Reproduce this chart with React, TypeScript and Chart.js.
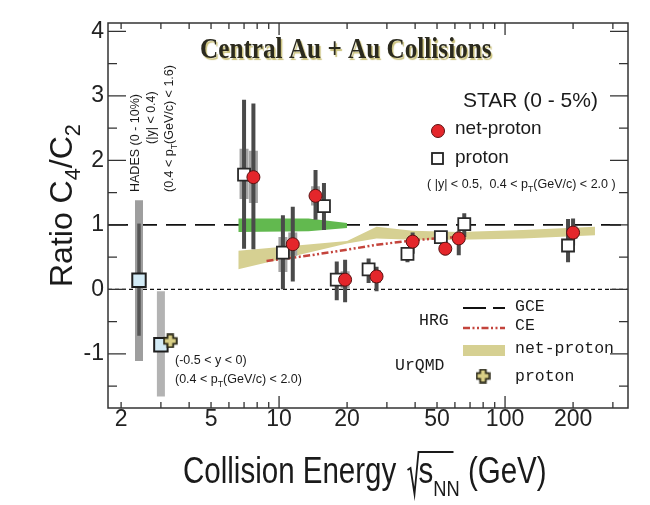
import React, { useEffect, useRef } from 'react';
import { Chart, registerables } from 'chart.js';

Chart.register(...registerables);

// ---------- axes ----------
const X_MIN = 1.75;
const X_MAX = 350;
const Y_MIN = -1.84;
const Y_MAX = 4.13;
const X_TICK_LABELS = [2, 5, 10, 20, 50, 100, 200];
const Y_TICK_LABELS = [-1, 0, 1, 2, 3, 4];
const X_MAJOR = [10, 100];
const X_MINOR = [2, 3, 4, 5, 6, 7, 8, 9, 20, 30, 40, 50, 60, 70, 80, 90, 200, 300];
const Y_MAJOR = [-1, 0, 1, 2, 3, 4];
const Y_MINOR = [-1.5, -0.5, 0.5, 1.5, 2.5, 3.5];

// ---------- STAR net-proton ----------
const NETP_E = [7.7, 11.5, 14.5, 19.6, 27, 39, 54.4, 62.4, 200];
const NETP_V = [1.74, 0.7, 1.45, 0.15, 0.2, 0.74, 0.63, 0.79, 0.88];
const NETP_STAT_LO = [0.62, 0.12, 1.08, -0.2, -0.03, 0.55, 0.53, 0.53, 0.68];
const NETP_STAT_HI = [2.88, 1.28, 1.85, 0.46, 0.35, 0.88, 0.72, 0.9, 1.1];
const NETP_SYS_LO = [1.34, 0.52, 1.3, 0.02, 0.1, 0.66, 0.56, 0.7, 0.78];
const NETP_SYS_HI = [2.15, 0.88, 1.6, 0.28, 0.3, 0.82, 0.7, 0.88, 0.98];

// ---------- STAR proton ----------
const PROT_E = [7.0, 10.4, 15.8, 18.0, 24.9, 37, 52, 66, 190];
const PROT_V = [1.78, 0.57, 1.29, 0.15, 0.31, 0.55, 0.81, 1.01, 0.68];
const PROT_STAT_LO = [0.63, 0.0, 0.92, -0.17, 0.1, 0.42, 0.72, 0.81, 0.42];
const PROT_STAT_HI = [2.94, 1.15, 1.65, 0.43, 0.48, 0.62, 0.9, 1.18, 1.09];
const PROT_SYS_LO = [1.4, 0.27, 1.2, 0.08, 0.22, 0.48, 0.74, 0.92, 0.6];
const PROT_SYS_HI = [2.18, 0.81, 1.38, 0.22, 0.38, 0.62, 0.88, 1.08, 0.76];

// ---------- HADES / low energy ----------
const HADES_E = [2.4];
const HADES_V = [0.14];
const HADES_STAT_LO = [-0.72];
const HADES_STAT_HI = [1.02];
const HADES_SYS_LO = [-1.11];
const HADES_SYS_HI = [1.38];
const FXT_E = [3.0];
const FXT_V = [-0.86];
const FXT_SYS_LO = [-1.66];
const FXT_SYS_HI = [-0.03];
const URQMD_P_E = [3.3];
const URQMD_P_V = [-0.8];

// ---------- model bands / lines ----------
const GREEN_E = [6.6, 13.5, 20.0];
const GREEN_LO = [0.89, 0.9, 0.95];
const GREEN_HI = [1.1, 1.1, 1.03];
const URQMD_NETP_E = [6.6, 20, 27, 39, 62.4, 120, 250];
const URQMD_NETP_LO = [0.31, 0.71, 0.79, 0.77, 0.77, 0.79, 0.84];
const URQMD_NETP_HI = [0.6, 0.75, 0.97, 0.91, 0.89, 0.92, 0.97];
const CE_E = [8.8, 11.5, 14.5, 19.6, 27, 39, 54.4, 62.4];
const CE_V = [0.44, 0.49, 0.54, 0.61, 0.69, 0.76, 0.8, 0.81];
const GCE_E = [X_MIN, X_MAX];
const GCE_V = [1, 1];
const ZERO_E = [X_MIN, X_MAX];
const ZERO_V = [0, 0];

const SANS = '"Liberation Sans", Arial, Helvetica, sans-serif';
const SERIF = '"Liberation Serif", "Times New Roman", serif';
const MONO = '"Liberation Mono", "Courier New", monospace';

const C_STAT = '#4a4a4a';
const C_SYS = '#a4a4a4';
const C_GREEN = '#62b94f';
const C_KHAKI = '#d6d092';
const C_CE = '#c4443c';
const C_RED = '#e4262b';

function pts(xs: number[], ys: number[]) {
  return xs.map((x, i) => ({ x, y: ys[i] }));
}
function bars(xs: number[], lo: number[], hi: number[]) {
  const d: any[] = [];
  xs.forEach((x, i) => {
    d.push({ x, y: lo[i] }, { x, y: hi[i] }, { x, y: null });
  });
  return d;
}

function makePlus(size: number) {
  const c = document.createElement('canvas');
  c.width = size;
  c.height = size;
  const g = c.getContext('2d')!;
  const a = size / 2;
  const w = size * 0.19;
  const L = size / 2 - 1.2;
  g.beginPath();
  g.moveTo(a - w, a - L);
  g.lineTo(a + w, a - L);
  g.lineTo(a + w, a - w);
  g.lineTo(a + L, a - w);
  g.lineTo(a + L, a + w);
  g.lineTo(a + w, a + w);
  g.lineTo(a + w, a + L);
  g.lineTo(a - w, a + L);
  g.lineTo(a - w, a + w);
  g.lineTo(a - L, a + w);
  g.lineTo(a - L, a - w);
  g.lineTo(a - w, a - w);
  g.closePath();
  g.fillStyle = '#d9cf86';
  g.fill();
  g.lineWidth = 1.8;
  g.strokeStyle = '#2a2816';
  g.stroke();
  return c;
}

type Part = [string, boolean];

function drawRich(ctx: CanvasRenderingContext2D, parts: Part[], x: number, y: number, size: number, family: string, sx = 1, subScale = 0.7, subDrop = 0.28) {
  let cx = x;
  for (const [t, sub] of parts) {
    const fs = sub ? size * subScale : size;
    ctx.font = `${fs}px ${family}`;
    const w = ctx.measureText(t).width * sx;
    ctx.save();
    ctx.translate(cx, y + (sub ? size * subDrop : 0));
    ctx.scale(sx, 1);
    ctx.fillText(t, 0, 0);
    ctx.restore();
    cx += w;
  }
  return cx;
}

function makeDecor(plusImg: HTMLCanvasElement) {
  return {
    id: 'decor',
    beforeDraw(chart: any) {
      const ctx = chart.ctx;
      ctx.save();
      ctx.fillStyle = '#ffffff';
      ctx.fillRect(0, 0, chart.width, chart.height);
      ctx.restore();
    },
    afterDatasetsDraw(chart: any) {
      const ctx: CanvasRenderingContext2D = chart.ctx;
      const { left, right, top, bottom } = chart.chartArea;
      const xs = chart.scales.x;
      const ys = chart.scales.y;
      ctx.save();
      ctx.strokeStyle = '#333';
      ctx.lineWidth = 1.5;
      ctx.strokeRect(left, top, right - left, bottom - top);
      ctx.lineWidth = 1.3;
      ctx.beginPath();
      const xt = (v: number, len: number) => {
        const p = xs.getPixelForValue(v);
        ctx.moveTo(p, bottom);
        ctx.lineTo(p, bottom - len);
        ctx.moveTo(p, top);
        ctx.lineTo(p, top + len);
      };
      const yt = (v: number, len: number) => {
        const p = ys.getPixelForValue(v);
        ctx.moveTo(left, p);
        ctx.lineTo(left + len, p);
        ctx.moveTo(right, p);
        ctx.lineTo(right - len, p);
      };
      X_MAJOR.forEach((v) => xt(v, 12));
      X_MINOR.forEach((v) => xt(v, 6));
      Y_MAJOR.forEach((v) => yt(v, 18));
      Y_MINOR.forEach((v) => yt(v, 9));
      ctx.stroke();
      ctx.restore();
    },
    afterDraw(chart: any) {
      const ctx: CanvasRenderingContext2D = chart.ctx;
      ctx.save();
      ctx.textBaseline = 'alphabetic';
      ctx.textAlign = 'left';

      // Title
      ctx.save();
      ctx.shadowColor = 'rgba(196,186,110,0.9)';
      ctx.shadowOffsetX = 1.5;
      ctx.shadowOffsetY = 1.5;
      ctx.shadowBlur = 1;
      ctx.fillStyle = '#2b2a1e';
      ctx.font = `bold 30px ${SERIF}`;
      ctx.translate(200, 58);
      ctx.scale(0.84, 1);
      ctx.fillText('Central Au + Au Collisions', 0, 0);
      ctx.restore();

      ctx.fillStyle = '#1a1a1a';

      // Y title
      ctx.save();
      ctx.translate(72, 287);
      ctx.rotate(-Math.PI / 2);
      drawRich(ctx, [['Ratio C', false], ['4', true], ['/C', false], ['2', true]], 0, 0, 32, SANS, 1, 0.68, 0.25);
      ctx.restore();

      // X title
      let cx = drawRich(ctx, [['Collision Energy ', false]], 183, 483, 36, SANS, 0.82);
      const rx = cx + 3;
      ctx.save();
      ctx.strokeStyle = '#1a1a1a';
      ctx.lineWidth = 1.8;
      ctx.beginPath();
      ctx.moveTo(rx, 470);
      ctx.lineTo(rx + 3, 468);
      ctx.lineTo(rx + 7, 494);
      ctx.lineTo(rx + 11, 452);
      ctx.lineTo(rx + 46, 452);
      ctx.stroke();
      ctx.restore();
      cx = drawRich(ctx, [['s', false], ['NN', true]], rx + 11, 483, 36, SANS, 0.82, 0.62, 0.36);
      drawRich(ctx, [[' (GeV)', false]], cx, 483, 36, SANS, 0.82);

      // HADES annotation (vertical)
      const vtext = (parts: Part[], x: number, y: number) => {
        ctx.save();
        ctx.translate(x, y);
        ctx.rotate(-Math.PI / 2);
        drawRich(ctx, parts, 0, 0, 12.5, SANS);
        ctx.restore();
      };
      vtext([['HADES (0 - 10%)', false]], 139, 192);
      vtext([['(|y| < 0.4)', false]], 155, 144);
      vtext([['(0.4 < p', false], ['T', true], ['(GeV/c) < 1.6)', false]], 173, 192);

      // low-energy annotation
      drawRich(ctx, [['(-0.5 < y < 0)', false]], 175, 364, 12.5, SANS);
      drawRich(ctx, [['(0.4 < p', false], ['T', true], ['(GeV/c) < 2.0)', false]], 175, 383, 12.5, SANS);

      // STAR legend
      drawRich(ctx, [['STAR (0 - 5%)', false]], 463, 107, 21, SANS);
      drawRich(ctx, [['net-proton', false]], 455, 134, 19, SANS);
      drawRich(ctx, [['proton', false]], 455, 163, 19, SANS);
      drawRich(ctx, [['( |y| < 0.5,  0.4 < p', false], ['T', true], ['(GeV/c) < 2.0 )', false]], 427, 188, 12.5, SANS);
      ctx.save();
      ctx.beginPath();
      ctx.arc(438, 131, 6.5, 0, Math.PI * 2);
      ctx.fillStyle = C_RED;
      ctx.fill();
      ctx.lineWidth = 1;
      ctx.strokeStyle = '#5b1111';
      ctx.stroke();
      ctx.fillStyle = '#fff';
      ctx.fillRect(432, 153, 11, 11);
      ctx.lineWidth = 1.8;
      ctx.strokeStyle = '#222';
      ctx.strokeRect(432, 153, 11, 11);
      ctx.restore();

      // HRG / UrQMD legend
      ctx.fillStyle = '#1a1a1a';
      drawRich(ctx, [['HRG', false]], 419, 325, 16.5, MONO);
      drawRich(ctx, [['GCE', false]], 515, 311, 16.5, MONO);
      drawRich(ctx, [['CE', false]], 515, 330, 16.5, MONO);
      drawRich(ctx, [['net-proton', false]], 515, 353, 16.5, MONO);
      drawRich(ctx, [['UrQMD', false]], 395, 370, 16.5, MONO);
      drawRich(ctx, [['proton', false]], 515, 381, 16.5, MONO);
      ctx.save();
      ctx.strokeStyle = '#111';
      ctx.lineWidth = 1.8;
      ctx.setLineDash([23, 7]);
      ctx.beginPath();
      ctx.moveTo(463, 308);
      ctx.lineTo(505, 308);
      ctx.stroke();
      ctx.strokeStyle = C_CE;
      ctx.lineWidth = 2.5;
      ctx.setLineDash([7, 2.5, 2, 2.5, 2, 2.5]);
      ctx.beginPath();
      ctx.moveTo(463, 328);
      ctx.lineTo(505, 328);
      ctx.stroke();
      ctx.setLineDash([]);
      ctx.fillStyle = C_KHAKI;
      ctx.fillRect(463, 345, 42, 11);
      ctx.drawImage(plusImg, 483 - plusImg.width / 2, 376 - plusImg.height / 2);
      ctx.restore();

      ctx.restore();
    },
  };
}

export default function App() {
  const ref = useRef<HTMLCanvasElement>(null);
  useEffect(() => {
    if (!ref.current) return;
    const plusImg = makePlus(15);
    const line = (data: any[], color: string, width: number, order: number, dash: number[] = []) => ({
      type: 'scatter',
      data,
      showLine: true,
      borderColor: color,
      borderWidth: width,
      borderDash: dash,
      borderCapStyle: 'butt',
      pointRadius: 0,
      pointHoverRadius: 0,
      spanGaps: false,
      fill: false,
      order,
    });
    const datasets: any[] = [
      // zero line
      line(pts(ZERO_E, ZERO_V), '#111', 1.2, 20, [4, 3]),
      // HRG GCE
      line(pts(GCE_E, GCE_V), '#111', 1.8, 19, [20, 9]),
      // UrQMD net-proton band
      { ...line(pts(URQMD_NETP_E, URQMD_NETP_LO), 'rgba(0,0,0,0)', 0, 18) },
      { ...line(pts(URQMD_NETP_E, URQMD_NETP_HI), 'rgba(0,0,0,0)', 0, 17), fill: '-1', backgroundColor: C_KHAKI },
      // green band
      { ...line(pts(GREEN_E, GREEN_LO), 'rgba(0,0,0,0)', 0, 16) },
      { ...line(pts(GREEN_E, GREEN_HI), 'rgba(0,0,0,0)', 0, 15), fill: '-1', backgroundColor: C_GREEN },
      // HRG CE
      line(pts(CE_E, CE_V), C_CE, 2.5, 14, [7, 2.5, 2, 2.5, 2, 2.5]),
      // systematic boxes
      line(bars(HADES_E, HADES_SYS_LO, HADES_SYS_HI), '#9e9e9e', 8, 12),
      line(bars(FXT_E, FXT_SYS_LO, FXT_SYS_HI), '#b3b3b3', 8, 12),
      line(bars(PROT_E, PROT_SYS_LO, PROT_SYS_HI), C_SYS, 9, 12),
      line(bars(NETP_E, NETP_SYS_LO, NETP_SYS_HI), C_SYS, 9, 12),
      // statistical bars
      line(bars(HADES_E, HADES_STAT_LO, HADES_STAT_HI), '#555', 3.5, 10),
      line(bars(PROT_E, PROT_STAT_LO, PROT_STAT_HI), C_STAT, 4, 10),
      line(bars(NETP_E, NETP_STAT_LO, NETP_STAT_HI), C_STAT, 4, 10),
      // markers
      {
        type: 'scatter', data: pts(HADES_E, HADES_V), pointStyle: 'rect', pointRadius: 9.5,
        backgroundColor: '#d3ebf6', borderColor: '#1e1e1e', borderWidth: 2, order: 3,
      },
      {
        type: 'scatter', data: pts(FXT_E, FXT_V), pointStyle: 'rect', pointRadius: 9.5,
        backgroundColor: '#d3ebf6', borderColor: '#1e1e1e', borderWidth: 2, order: 3,
      },
      {
        type: 'scatter', data: pts(URQMD_P_E, URQMD_P_V), pointStyle: plusImg, pointRadius: 8, order: 2,
      },
      {
        type: 'scatter', data: pts(PROT_E, PROT_V), pointStyle: 'rect', pointRadius: 8.5,
        backgroundColor: '#ffffff', borderColor: '#2a2a2a', borderWidth: 1.8, order: 4,
      },
      {
        type: 'scatter', data: pts(NETP_E, NETP_V), pointStyle: 'circle', pointRadius: 6.5,
        backgroundColor: C_RED, borderColor: '#5b1111', borderWidth: 1, order: 1,
      },
    ];

    const chart = new Chart(ref.current, {
      type: 'scatter',
      data: { datasets },
      options: {
        responsive: false,
        animation: false,
        events: [],
        layout: { padding: { top: 23, right: 22, left: 0, bottom: 0 } },
        plugins: {
          legend: { display: false },
          tooltip: { enabled: false },
          title: { display: false },
        },
        scales: {
          x: {
            type: 'logarithmic',
            min: X_MIN,
            max: X_MAX,
            grid: { display: false, drawTicks: false },
            border: { display: false },
            afterBuildTicks: (s: any) => {
              s.ticks = X_TICK_LABELS.map((v) => ({ value: v }));
            },
            afterFit: (s: any) => {
              s.height = 97;
            },
            ticks: {
              autoSkip: false,
              maxRotation: 0,
              minRotation: 0,
              padding: 0,
              color: '#222',
              font: { family: SANS, size: 23, lineHeight: 1 },
              callback: (v: any) => String(v),
            },
          },
          y: {
            type: 'linear',
            min: Y_MIN,
            max: Y_MAX,
            grid: { display: false, drawTicks: false },
            border: { display: false },
            afterBuildTicks: (s: any) => {
              s.ticks = Y_TICK_LABELS.map((v) => ({ value: v }));
            },
            afterFit: (s: any) => {
              s.width = 108;
            },
            ticks: {
              padding: 4,
              color: '#222',
              font: { family: SANS, size: 23, lineHeight: 1 },
              callback: (v: any) => String(v),
            },
          },
        },
      } as any,
      plugins: [makeDecor(plusImg)],
    } as any);
    return () => chart.destroy();
  }, []);

  return (
    <div style={{ position: 'fixed', left: 0, top: 0, width: 650, height: 505, background: '#fff' }}>
      <canvas ref={ref} width={650} height={505} style={{ display: 'block', width: 650, height: 505 }} />
    </div>
  );
}
